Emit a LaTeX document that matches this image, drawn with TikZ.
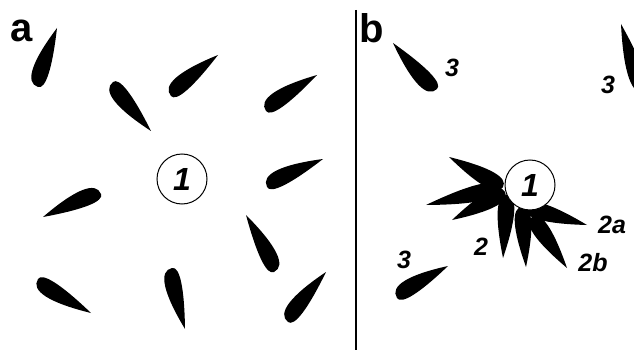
\documentclass[tikz,border=0pt]{standalone}
\usepackage{fontspec}
\setmainfont{Liberation Sans}
\usetikzlibrary{calc}

% one seed: blunt end, tip, width on the left, width on the right
\newcommand{\leaf}[4]{\fill (#1) .. controls ($(#1)!#3!90:(#2)$) and ($(#1)!0.35!(#2)!#3!90:(#2)$) .. (#2) .. controls ($(#1)!0.35!(#2)!#4!-90:(#2)$) and ($(#1)!#4!-90:(#2)$) .. cycle;}

\begin{document}
\begin{tikzpicture}[x=1pt, y=-1pt,
    main/.style = {draw, circle, fill=white, line width=1pt, minimum size=50pt, inner sep=0pt, font=\fontsize{32}{34}\selectfont\bfseries\itshape},
    lab/.style = {font=\fontsize{25}{28}\selectfont\bfseries\itshape},
    panel/.style = {font=\fontsize{40}{42}\selectfont\bfseries}]
    \useasboundingbox (0,0) rectangle (634,350);
    \clip (0,0) rectangle (634,350);
    % panel a
    \leaf{38,87}{57,28}{14pt}{8pt}
    \leaf{113,82}{151,131}{8pt}{14pt}
    \leaf{171,96}{218,55}{14pt}{8pt}
    \leaf{266,111}{317,75}{14pt}{8pt}
    \leaf{267,187}{323,159}{14pt}{8pt}
    \leaf{101,194}{43,217}{8pt}{14pt}
    \leaf{38,279}{91,313}{8pt}{14pt}
    \leaf{172,268}{185,329}{8pt}{14pt}
    \leaf{274,272}{246,215}{8pt}{14pt}
    \leaf{288,322}{326,272}{14pt}{8pt}
    \node[main] (a1) at (182,179) {1};
    \node[panel] (a) at (22,31) {a};
    % divider
    \coordinate (top) at (356,10);
    \coordinate (bottom) at (356,350);
    \draw[line width=1.5pt] (top) -- (bottom);
    % panel b
    \leaf{437,89}{393,43}{14pt}{8pt}
    \leaf{645,92}{621,24}{14pt}{8pt}
    \leaf{397,298}{448,266}{14pt}{8pt}
    \leaf{503,187}{449,157}{11pt}{11pt}
    \leaf{500,188}{426,205}{11pt}{11pt}
    \leaf{505,192}{452,220}{11pt}{11pt}
    \leaf{507,195}{503,258}{11pt}{11pt}
    \leaf{522,207}{526,267}{11pt}{11pt}
    \leaf{532,217}{567,268}{11pt}{11pt}
    \leaf{525,207}{587,225}{11pt}{11pt}
    \node[main] (b1) at (530,185) {1};
    \node[panel] (b) at (372,28) {b};
    \node[lab] (3a) at (452,68) {3};
    \node[lab] (3b) at (608,85) {3};
    \node[lab] (3c) at (404,260) {3};
    \node[lab] (2) at (481,247) {2};
    \node[lab] (2a) at (612,225) {2a};
    \node[lab] (2b) at (593,263) {2b};
\end{tikzpicture}
\end{document}
